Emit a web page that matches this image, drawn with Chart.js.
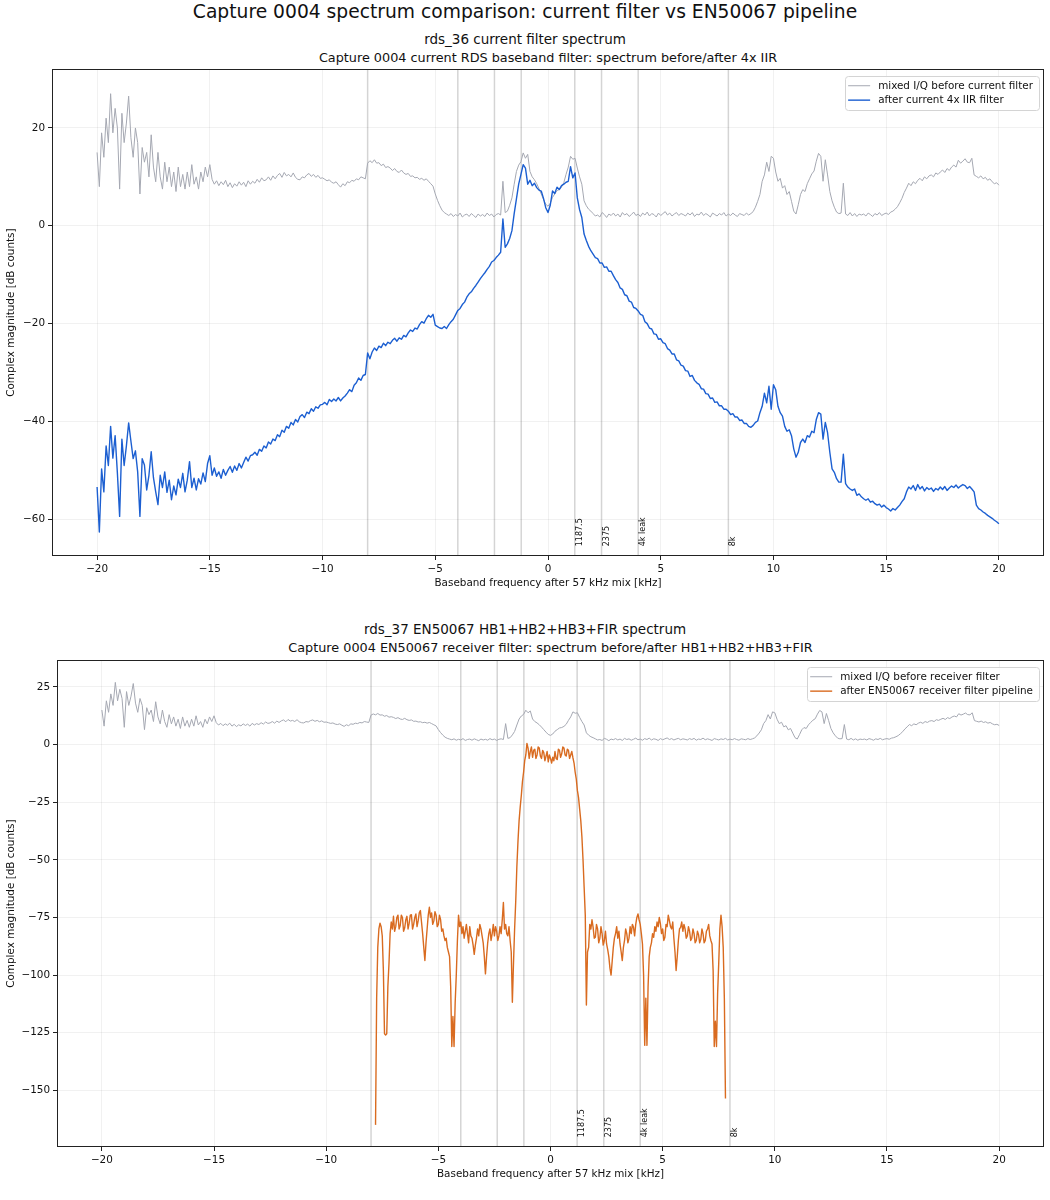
<!DOCTYPE html>
<html>
<head>
<meta charset="utf-8">
<title>Capture 0004 spectrum comparison</title>
<script src="https://cdn.jsdelivr.net/npm/chart.js@4.4.1/dist/chart.umd.min.js"></script>
<style>
  body { margin: 0; background: #fff; }
  #page { position: relative; width: 1050px; height: 1200px; font-family: "DejaVu Sans", sans-serif; color: #111; }
  .t { position: absolute; text-align: center; white-space: nowrap; }
  #suptitle { left: 0; width: 1050px; top: 0; font-size: 18.7px; line-height: 24px; }
  .sub { left: 0; width: 1050px; font-size: 13.5px; line-height: 16px; }
  .ax { font-size: 12.8px; line-height: 16px; }
  canvas { position: absolute; left: 0; }
  #topChart { top: 60px; }
  #bottomChart { top: 651px; }
</style>
</head>
<body>
<div id="page">
  <div id="suptitle" class="t">Capture 0004 spectrum comparison: current filter vs EN50067 pipeline</div>
  <div class="t sub" style="top:31px">rds_36 current filter spectrum</div>
  <div class="t ax" style="top:50px;left:52px;width:992px">Capture 0004 current RDS baseband filter: spectrum before/after 4x IIR</div>
  <div class="t sub" style="top:621px">rds_37 EN50067 HB1+HB2+HB3+FIR spectrum</div>
  <div class="t ax" style="top:640px;left:57px;width:987px">Capture 0004 EN50067 receiver filter: spectrum before/after HB1+HB2+HB3+FIR</div>
  <canvas id="topChart" width="1050" height="532"></canvas>
  <canvas id="bottomChart" width="1050" height="532"></canvas>
</div>
<script>
// frequency grids [kHz]: mixed + IIR on -20..20 every 0.1, pipeline output on -7.8..7.8 every 0.05
const mixedStart = -20;
const mixedStep = 0.1;
const pipelineStart = -7.8;
const pipelineStep = 0.05;

// mixed I/Q before filtering [dB counts]
const mixedDb = [
  15, 8, 19, 14, 22, 17, 27, 19, 24, 20,
  7.5, 23, 17, 21, 26.5, 18, 14, 20, 17, 6.5,
  16, 13, 15, 10, 18.6, 12, 9, 15, 10, 7.5,
  13, 9, 12, 8, 11, 7, 12, 8, 10.5, 7.5,
  11, 8, 12.5, 8.5, 10, 7.5, 11, 9, 12, 10,
  12.5, 9.5, 8.5, 9.2, 8.2, 9, 8.4, 9.3, 8, 8.8,
  7.8, 8.6, 8.1, 9, 8.3, 8.9, 8, 9.2, 8.5, 9.1,
  8.7, 9.5, 8.9, 9.8, 9.2, 9.4, 10, 9.3, 10.2, 9.6,
  10.3, 10.7, 9.9, 10.9, 10.2, 10.5, 10, 10.8, 9.9, 9.5,
  9.4, 10, 9.8, 10.4, 10.7, 10.1, 10.5, 9.9, 10.3, 9.7,
  9.8, 9.5, 9.2, 9.4, 8.9, 8.7, 9, 8.4, 7.9, 8.6,
  8.2, 9, 8.8, 9.3, 9.1, 9.6, 9.4, 10, 9.8, 9.6,
  12.8, 13.3, 12.9, 13.5, 12.8, 12.9, 12.3, 12.6, 11.9, 12.1,
  11.8, 11.3, 11.7, 11.1, 10.9, 11.4, 10.8, 10.5, 10.7, 10.1,
  10.2, 9.8, 9.9, 9.5, 9.7, 9.3, 9.6, 9.1, 8.6, 8.1,
  6.5, 5.2, 4.1, 3.2, 2.7, 2.4, 2.1, 2.5, 1.9, 2.3,
  2.0, 2.6, 1.8, 2.2, 2.4, 1.9, 2.5, 2.1, 1.7, 2.4,
  2.0, 2.3, 1.9, 2.6, 2.1, 2.4, 1.8, 2.3, 2.5, 2.2,
  9.1, 2.7, 3.0, 4.2, 5.7, 8.5, 11.1, 12.4, 13.1, 14.9,
  13.8, 14.6, 11.1, 10, 9.4, 8.6, 7.6, 6.5, 5.4, 4.4,
  4.0, 4.6, 5.8, 6.5, 7.2, 7.4, 7.9, 8.8, 10.5, 12,
  14.2, 13.6, 13.8, 11.8, 10, 8.5, 5.1, 4.1, 3.4, 3.0,
  2.5, 2.0, 2.2, 1.8, 2.7, 2.3, 1.7, 2.4, 2.1, 2.6,
  2.0, 2.4, 1.8, 2.7, 2.2, 2.5, 1.9, 2.3, 2.8, 2.1,
  2.4, 1.9, 2.6, 2.2, 2.8, 2.0, 2.5, 2.3, 1.8, 2.6,
  2.1, 2.5, 2.9, 2.2, 2.6, 2.0, 2.4, 2.7, 2.1, 2.5,
  2.3, 2.0, 2.6, 2.2, 2.7, 1.9, 2.4, 2.2, 2.8, 2.1,
  2.5, 2.2, 1.8, 2.6, 2.3, 2.0, 2.5, 2.2, 2.7, 2.0,
  2.4, 2.1, 2.6, 2.2, 1.9, 2.5, 2.3, 2.1, 2.6, 2.2,
  2.5, 2.9, 3.8, 5, 6.4, 9.1, 10.4, 13, 11.1, 14.2,
  13.8, 11, 9.1, 9.7, 7.7, 8.2, 6.4, 7, 5, 3,
  2.4, 4.3, 6.4, 7.4, 7, 8.6, 9.6, 10.6, 11.2, 13.2,
  14.8, 14.2, 9.1, 13.5, 10.4, 7, 5.1, 3.8, 2.8, 2.5,
  2.6, 8.7, 2.4, 2.1, 2.7, 2.0, 2.5, 1.9, 2.4, 2.2,
  2.4, 2.0, 2.6, 2.3, 1.9, 2.5, 2.2, 2.7, 2.1, 2.4,
  2.6, 2.3, 2.8, 3.0, 3.4, 3.9, 4.7, 5.6, 6.8, 7.7,
  8.7, 8.2, 9, 8.6, 9.3, 9.7, 9.2, 10, 9.6, 10.2,
  10.4, 10, 10.8, 10.5, 11, 11.4, 10.9, 11.7, 11.3, 12,
  12.4, 12, 13.4, 12.8, 13.2, 13.7, 13, 12.9, 13.8, 10.4,
  10.1, 9.8, 10.2, 9.6, 9.9, 9.3, 9.6, 9, 8.6, 8.8,
  8.3
];

// after current 4x IIR filter [dB counts]
const iirDb = [
  -53.4, -62.6, -49.7, -54.4, -45, -49, -41, -47.5, -42.9, -50.5,
  -59.4, -43.6, -49, -45, -40.3, -44, -47.6, -46, -50.3, -59.4,
  -47.6, -48.9, -54, -51, -46.2, -51.5, -54.4, -57, -51, -53.5,
  -50.3, -54.5, -52, -56, -53.2, -55, -51.8, -53.5, -50.6, -54.4,
  -52, -48.2, -53.5, -51.6, -54, -51.7, -52.8, -50.5, -52.3, -48.6,
  -47, -51, -49.5, -51.2, -50.3, -51.6, -49.8, -51, -50, -49.2,
  -50.4, -49.1, -50, -48.6, -49.5, -48.4, -47.3, -48.1, -47, -46.8,
  -46.3, -46.9, -45.7, -46.1, -45, -45.4, -44.2, -44.6, -43.6, -43.9,
  -42.7, -43.1, -41.8, -42.2, -41, -41.4, -40.2, -40.7, -39.6, -40.1,
  -39, -38.6, -39.2, -38.1, -38.4, -37.4, -37.9, -37, -37.3, -36.6,
  -36.5, -36.1, -36.6, -35.5, -35.9, -35.4, -35.8, -35.1, -35.8, -35.2,
  -34.8, -34.2, -33.5, -33.9, -32.6, -32.1, -31.1, -31.6, -30.6, -30.4,
  -26, -27.2, -25.8, -25, -25.5, -24.6, -24.9, -24, -24.5, -23.8,
  -24.1, -23.4, -23, -23.6, -22.9, -23.2, -22.4, -22.7, -21.9, -21.3,
  -21.6, -20.9, -21.1, -20.2, -19.6, -19.9, -19, -18.3, -18.7, -18.1,
  -20.3, -20.6, -20.9, -21, -20.6, -21, -20.2, -19.6, -19.1, -18.2,
  -17.3, -16.9, -16.1, -15.6, -14.6, -13.9, -13.5, -12.8, -12.2, -11.5,
  -10.8, -10.2, -9.6, -8.9, -8.3, -7.4, -7.1, -6.5, -6.0, -5.4,
  1.4, -4.4, -3.7, -2.6, -1, 2.5, 5.5, 8.5, 10.5, 12.5,
  11.8, 8.5, 9.3, 8.2, 8.7, 7.8, 7.3, 7.1, 5.6, 3.7,
  2.7, 4.2, 7.1, 6.6, 7.9, 7.4, 8.2, 8.5, 8.9, 9.1,
  12.1, 9.8, 10.8, 5.7, 3.3, 1.7, -1.7, -3, -4.2, -5.1,
  -5.8, -6.5, -6.7, -7.6, -7.6, -8.5, -8.4, -9.3, -9.3, -10.2,
  -11, -11.6, -12.7, -13, -14.1, -14.3, -15.4, -15.6, -16.7, -16.9,
  -17.4, -18.1, -18.3, -19.6, -20, -20.9, -21.1, -22.1, -22.2, -23.2,
  -23.1, -23.9, -24.1, -25.1, -25.4, -26.2, -26.2, -27.4, -27.6, -28.5,
  -28.7, -29.6, -29.7, -30.8, -30.6, -31.6, -32.1, -32.4, -33.3, -33.4,
  -34.3, -34.4, -35.3, -35.2, -36.1, -36, -36.8, -36.8, -37.5, -37.5,
  -37.9, -38.6, -38.4, -39.1, -39.1, -39.8, -39.7, -40.4, -40.4, -41,
  -41.2, -40.8, -40.2, -39.9, -38.2, -36.9, -34.2, -36.2, -32.8, -37.5,
  -32.5, -33.5, -36.9, -38.2, -38.9, -41, -42, -41.7, -42.9, -45.6,
  -47.3, -46.3, -44.3, -43.6, -44.3, -42.9, -43.2, -42, -42.3, -39.6,
  -38.2, -38.5, -43.6, -40.2, -42.3, -46.3, -49.7, -50.4, -51.7, -52.4,
  -52.4, -46.7, -52.7, -53.4, -53.8, -54.1, -53.8, -55.1, -54.8, -55.4,
  -55.8, -56.1, -55.8, -56.5, -56.3, -56.8, -57.1, -56.9, -57.5, -57.1,
  -57.6, -57.9, -58.3, -57.8, -58.1, -57.6, -57.1, -56.4, -55.8, -54.4,
  -53.4, -53.8, -53.1, -54.1, -52.9, -53.8, -53.3, -54.2, -53.5, -53.9,
  -53.6, -54.3, -53.7, -54, -53.4, -53.9, -53.3, -54.1, -53.6, -53.2,
  -53.5, -53, -53.6, -53.2, -52.9, -53.1, -53.7, -53.3, -53.8, -54.4,
  -57.1, -57.8, -58.1, -58.5, -58.8, -59.2, -59.5, -59.8, -60.2, -60.5,
  -60.9
];

// after EN50067 HB1+HB2+HB3+FIR pipeline [dB counts], -7.8 .. 7.8 kHz, one row per 0.5 kHz
const pipelineDb = [
  -165, -110, -88, -80, -77.5, -79, -83, -98, -125.5, -126,
  -125.5, -105, -95, -82, -77, -80, -74.5, -81, -79, -75,
  -74, -80, -78.5, -74, -75, -81, -79.5, -76, -74.5, -80,
  -77.5, -74, -73.8, -80, -78, -75, -73.5, -79, -76.5, -73,
  -72, -77, -82, -88, -93.7, -86, -80, -74, -70.6, -75,
  -73, -78, -76.5, -72.5, -74, -79, -78, -74, -76, -81,
  -80, -83, -85, -84, -88, -90, -92, -105, -131, -118,
  -131, -112, -100, -85, -74, -79, -77, -82, -79, -84,
  -81, -78, -82, -86, -79, -83, -84, -87, -91, -87,
  -84, -80, -83, -78, -80, -83, -86, -92, -99.5, -92,
  -86, -82, -80, -85, -82, -78, -83, -79, -81, -85,
  -83, -79, -82, -76, -68.5, -80, -78, -82, -83, -79,
  -85, -90, -111.8, -95, -80, -68, -53, -42, -33, -27,
  -22, -16, -12, -7, -4.5, 0.5, -1.5, -6, -3, -1,
  -5.5, -2.5, -2, -6, -4.5, -1, -1.5, -5, -6, -2.5,
  -3.5, -7, -5, -3, -7.5, -4.5, -6, -8, -5.5, -7,
  -3, -6, -6.5, -2, -2.5, -5.5, -4, -1, -1.5, -4.5,
  -5, -2, -2.5, -6, -4.5, -3, -5.7, -8, -12, -15,
  -20, -23, -28, -33, -40, -50, -62, -74, -113, -90,
  -88, -78, -80, -76, -79.3, -84, -83.6, -78, -80, -86,
  -84, -79, -82, -87, -85, -81, -86.5, -89, -92, -97,
  -100, -94, -88, -84, -82, -79, -84, -81, -86.5, -90,
  -93.7, -88, -85, -80, -82, -86, -84, -79, -82, -78,
  -79.3, -83, -78, -75, -73.5, -76, -78, -82, -86.5, -100,
  -130.5, -110, -130.5, -105, -92, -88, -86, -82, -83.6, -79,
  -81, -77, -79, -75, -77.8, -82, -80, -85, -83.6, -78,
  -79, -74, -76.4, -79, -80, -77, -84, -90, -98, -92,
  -85, -80, -79.3, -77, -81, -78, -80, -84, -83, -79,
  -81, -85, -84, -80, -82, -86, -85, -81, -82.5, -86,
  -84.5, -80, -82, -86, -85, -81, -80, -78, -83, -85,
  -86.5, -98, -131, -120, -131, -108, -94.7, -80, -74, -79,
  -88, -110, -153.6
];

const xTicks = [-20, -15, -10, -5, 0, 5, 10, 15, 20];
const yTicksTop = [20, 0, -20, -40, -60];
const yTicksBottom = [25, 0, -25, -50, -75, -100, -125, -150];
const markerFreqs = [-8, -4, -2.375, -1.1875, 1.1875, 2.375, 4, 8];
const markerLabels = [[1.1875, '1187.5'], [2.375, '2375'], [4, '4k leak'], [8, '8k']];

const grayColor = '#a5a8b2';
const blueColor = '#1c5fd1';
const orangeColor = '#d96b20';
const gridColor = 'rgba(0,0,0,0.07)';

Chart.defaults.font.family = '"DejaVu Sans", sans-serif';
Chart.defaults.color = '#111';

function toPoints(vals, start, step) {
  return vals.map((v, i) => ({ x: Math.round((start + i * step) * 100) / 100, y: v }));
}

function fmt(v) {
  return String(v).replace('-', '\u2212');
}

// marker lines, marker labels, axes frame and a matplotlib-style legend
const decorations = {
  id: 'decorations',
  beforeDatasetsDraw(chart) {
    const { ctx, chartArea: a, scales: { x } } = chart;
    ctx.save();
    ctx.strokeStyle = 'rgba(0,0,0,0.17)';
    ctx.lineWidth = 1.5;
    markerFreqs.forEach(f => {
      const px = x.getPixelForValue(f);
      ctx.beginPath();
      ctx.moveTo(px, a.top);
      ctx.lineTo(px, a.bottom);
      ctx.stroke();
    });
    ctx.restore();
  },
  afterDraw(chart) {
    const { ctx, chartArea: a, scales: { x } } = chart;
    ctx.save();

    ctx.fillStyle = '#111';
    ctx.font = '8px "DejaVu Sans"';
    ctx.textAlign = 'left';
    ctx.textBaseline = 'top';
    markerLabels.forEach(([f, txt]) => {
      ctx.save();
      ctx.translate(x.getPixelForValue(f) + 1, a.bottom - 0.02 * (a.bottom - a.top));
      ctx.rotate(-Math.PI / 2);
      ctx.fillText(txt, 0, 0);
      ctx.restore();
    });

    ctx.strokeStyle = '#222';
    ctx.lineWidth = 1;
    ctx.strokeRect(Math.round(a.left) + 0.5, Math.round(a.top) + 0.5,
      Math.round(a.right - a.left) - 1, Math.round(a.bottom - a.top) - 1);

    const items = chart.data.datasets;
    ctx.font = '10.4px "DejaVu Sans"';
    const textW = Math.max(...items.map(d => ctx.measureText(d.label).width));
    const w = 33 + textW + 6, h = 34;
    const x0 = a.right - 5 - w, y0 = a.top + 7;
    ctx.fillStyle = 'rgba(255,255,255,0.85)';
    ctx.strokeStyle = '#d4d4d4';
    ctx.beginPath();
    ctx.roundRect(Math.round(x0) + 0.5, Math.round(y0) + 0.5, Math.round(w), h, 3);
    ctx.fill();
    ctx.stroke();
    ctx.textBaseline = 'middle';
    items.forEach((d, i) => {
      const cy = y0 + 9.5 + i * 14.4;
      ctx.strokeStyle = d.borderColor;
      ctx.lineWidth = d.borderWidth;
      ctx.beginPath();
      ctx.moveTo(x0 + 3, cy);
      ctx.lineTo(x0 + 25, cy);
      ctx.stroke();
      ctx.fillStyle = '#111';
      ctx.fillText(d.label, x0 + 33, cy + 0.5);
    });
    ctx.restore();
  }
};

function makeChart(id, datasets, yMin, yMax, yTicks, axisWidth) {
  return new Chart(document.getElementById(id), {
    type: 'line',
    data: { datasets },
    options: {
      responsive: false,
      animation: false,
      events: [],
      layout: { padding: { top: 7.5, right: 6, left: 0, bottom: 0 } },
      elements: { point: { radius: 0 }, line: { tension: 0, borderJoinStyle: 'round' } },
      plugins: { legend: { display: false }, tooltip: { enabled: false } },
      scales: {
        x: {
          type: 'linear', min: -22, max: 22,
          afterBuildTicks: s => { s.ticks = xTicks.map(v => ({ value: v })); },
          afterFit: s => { s.height = 36; },
          ticks: { callback: fmt, font: { size: 10.4 }, padding: 3, maxRotation: 0, autoSkip: false },
          grid: { color: gridColor, lineWidth: 0.8, tickLength: 4, tickColor: '#222', tickWidth: 1 },
          border: { display: false },
          title: { display: true, text: 'Baseband frequency after 57 kHz mix [kHz]', font: { size: 10.4 }, padding: { top: 0, bottom: 2.8 } }
        },
        y: {
          type: 'linear', min: yMin, max: yMax,
          afterBuildTicks: s => { s.ticks = yTicks.map(v => ({ value: v })); },
          afterFit: s => { s.width = axisWidth; },
          ticks: { callback: fmt, font: { size: 10.4 }, padding: 3, autoSkip: false },
          grid: { color: gridColor, lineWidth: 0.8, tickLength: 4, tickColor: '#222', tickWidth: 1 },
          border: { display: false },
          title: { display: true, text: 'Complex magnitude [dB counts]', font: { size: 10.4 }, padding: { top: 4.8, bottom: 0 } }
        }
      }
    },
    plugins: [decorations]
  });
}

const mixedPoints = toPoints(mixedDb, mixedStart, mixedStep);

makeChart('topChart', [
  { label: 'mixed I/Q before current filter', data: mixedPoints, borderColor: grayColor, borderWidth: 1, order: 2 },
  { label: 'after current 4x IIR filter', data: toPoints(iirDb, mixedStart, mixedStep), borderColor: blueColor, borderWidth: 1.4, order: 1 }
], -67.5, 32, yTicksTop, 52);

makeChart('bottomChart', [
  { label: 'mixed I/Q before receiver filter', data: mixedPoints, borderColor: grayColor, borderWidth: 1, order: 2 },
  { label: 'after EN50067 receiver filter pipeline', data: toPoints(pipelineDb, pipelineStart, pipelineStep), borderColor: orangeColor, borderWidth: 1.4, order: 1 }
], -174.6, 36.6, yTicksBottom, 57);
</script>
</body>
</html>
